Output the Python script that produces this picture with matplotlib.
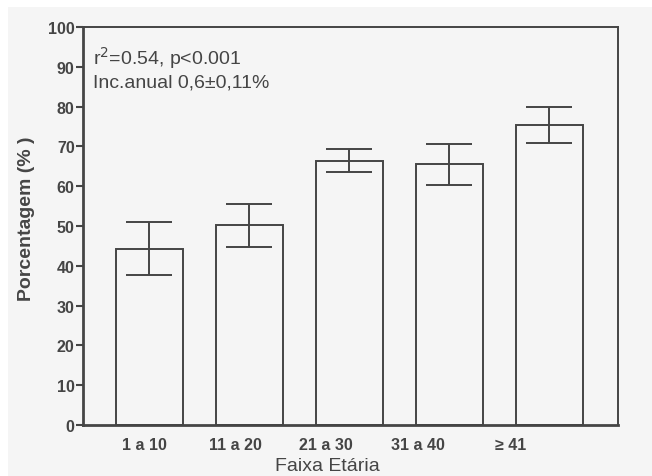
import numpy as np
import matplotlib.pyplot as plt
from matplotlib.patches import Rectangle
from matplotlib.transforms import ScaledTranslation

# dados
faixas = ['1 a 10', '11 a 20', '21 a 30', '31 a 40', '≥ 41']
media = [44.2, 50.3, 66.4, 65.5, 75.4]
erro_inf = [6.6, 5.7, 2.8, 5.3, 4.5]
erro_sup = [6.8, 5.2, 3.0, 5.1, 4.5]

plt.rcParams['font.family'] = ['Liberation Sans', 'DejaVu Sans']
cinza = '#454545'
fundo = '#f5f5f5'

fig = plt.figure(figsize=(6.52, 4.77), dpi=100, facecolor='white')
fig.patches.append(Rectangle((8 / 652, 0), 1, 1 - 8 / 477, transform=fig.transFigure,
                             facecolor=fundo, edgecolor='none', zorder=-10))
ax = fig.add_axes([83 / 652, 51 / 477, 535 / 652, 398 / 477])
ax.set_facecolor(fundo)

x = np.arange(len(faixas))
ax.bar(x, media, width=0.67, color=fundo, edgecolor=cinza, linewidth=1.4, zorder=2)
ax.errorbar(x, media, yerr=[erro_inf, erro_sup], fmt='none', ecolor=cinza,
            elinewidth=1.4, capsize=16.5, capthick=1.4, zorder=3)

ax.set_xlim(-0.66, 4.685)
ax.set_ylim(0, 100)
ax.set_yticks(range(0, 101, 10))
ax.set_xticks(x)
ax.set_xticklabels(faixas, fontsize=11.5, fontweight='bold', color=cinza)
ax.tick_params(axis='x', length=0, pad=9)
ax.tick_params(axis='y', length=5, width=1.5, color=cinza, labelsize=11.5,
               labelcolor=cinza, pad=1)
for lab in ax.get_yticklabels():
    lab.set_fontweight('bold')

# no original os rótulos do eixo x ficam deslocados para a esquerda
desloc = [-5, -14, -23.5, -31.5, -38.5]
for lab, d in zip(ax.get_xticklabels(), desloc):
    lab.set_transform(lab.get_transform() + ScaledTranslation(d / 100, 0, fig.dpi_scale_trans))

for lado in ['left', 'bottom']:
    ax.spines[lado].set_linewidth(2)
    ax.spines[lado].set_color(cinza)
for lado in ['top', 'right']:
    ax.spines[lado].set_linewidth(1.4)
    ax.spines[lado].set_color(cinza)

ax.set_ylabel('Porcentagem (% )', fontsize=14, color=cinza, fontweight='semibold')
ax.yaxis.set_label_coords(-0.09, 0.521)
ax.set_xlabel('Faixa Etária', fontsize=14, color=cinza)
ax.xaxis.set_label_coords(0.456, -0.080)

ax.text(0.0187, 0.907, 'r$^2$=0.54, p<0.001', transform=ax.transAxes,
        fontsize=14, color=cinza, va='baseline', ha='left')
ax.text(0.0187, 0.851, 'Inc.anual 0,6±0,11%', transform=ax.transAxes,
        fontsize=14, color=cinza, va='baseline', ha='left')

fig.savefig('out.png', dpi=100, facecolor=fig.get_facecolor())
